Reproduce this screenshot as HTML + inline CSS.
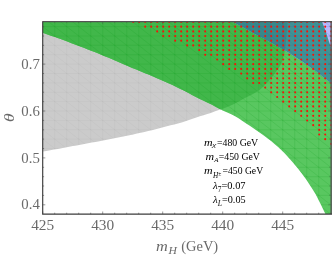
<!DOCTYPE html>
<html><head><meta charset="utf-8"><style>
html,body{margin:0;padding:0;background:#fff;}
svg{display:block;font-family:"Liberation Serif",serif;will-change:transform;}
</style></head><body>
<svg width="332" height="256" viewBox="0 0 332 256">
<defs>
<path id="pg" d="M42.7,32.8 L46.8,34.2 L51.0,35.7 L55.1,37.1 L59.2,38.6 L63.3,40.1 L67.4,41.6 L71.5,43.2 L75.6,44.7 L79.7,46.2 L83.8,47.8 L87.9,49.4 L91.9,51.0 L96.0,52.6 L100.1,54.2 L104.1,55.9 L108.1,57.6 L112.2,59.3 L116.2,61.0 L120.2,62.7 L124.2,64.5 L128.3,66.2 L132.3,67.9 L136.3,69.5 L140.4,71.2 L144.4,72.9 L148.5,74.6 L152.5,76.3 L156.5,78.0 L160.5,79.7 L164.5,81.5 L168.5,83.3 L172.5,85.1 L176.4,87.0 L180.4,88.9 L184.3,90.8 L188.2,92.8 L192.0,94.9 L195.9,97.0 L199.8,99.0 L203.7,100.8 L207.7,102.7 L211.6,104.6 L215.5,106.7 L219.3,108.8 L223.3,110.7 L227.3,112.5 L231.2,114.3 L235.1,116.3 L238.9,118.5 L242.5,120.9 L246.2,123.4 L249.8,125.8 L253.4,128.3 L257.0,130.8 L260.6,133.3 L264.1,135.8 L267.7,138.4 L271.1,141.1 L274.5,143.9 L277.8,146.7 L281.0,149.7 L284.1,152.8 L287.1,156.0 L290.0,159.3 L292.9,162.5 L295.8,165.9 L298.5,169.3 L301.2,172.7 L303.8,176.2 L306.4,179.7 L308.8,183.4 L311.1,187.1 L313.5,190.8 L315.8,194.5 L317.8,198.4 L319.7,202.3 L321.7,206.2 L323.6,210.2 L325.5,214.1 L332.3,214.1 L332.3,50.0 L330.3,45.5 L327.6,37.4 L325.3,30.0 L322.0,21.8 L42.7,21.8Z"/>
<path id="py" d="M42.7,21.8 L287.6,21.8 L287.6,21.8 L287.4,25.6 L287.1,29.5 L286.7,33.3 L286.4,37.1 L286.0,40.9 L285.6,44.8 L285.1,48.6 L284.5,52.4 L283.6,56.1 L282.5,59.8 L281.2,63.4 L279.6,66.8 L277.4,70.0 L275.1,73.1 L272.7,76.2 L270.2,79.1 L267.7,82.0 L265.1,84.8 L262.4,87.6 L259.5,90.0 L256.3,92.1 L253.0,94.0 L249.5,95.8 L246.0,97.5 L242.6,99.3 L239.3,101.2 L235.9,103.0 L232.4,104.7 L228.9,106.3 L225.4,107.7 L221.8,109.0 L218.1,110.3 L214.5,111.6 L210.9,112.9 L207.3,114.1 L203.6,115.2 L199.9,116.3 L196.3,117.5 L192.6,118.8 L189.0,120.1 L185.4,121.3 L181.7,122.4 L178.0,123.4 L174.3,124.4 L170.6,125.3 L166.9,126.3 L163.1,127.3 L159.4,128.3 L155.7,129.3 L152.0,130.2 L148.2,131.1 L144.5,131.9 L140.8,132.8 L137.0,133.6 L133.2,134.4 L129.5,135.2 L125.7,135.9 L122.0,136.7 L118.2,137.5 L114.4,138.2 L110.7,139.0 L106.9,139.7 L103.1,140.4 L99.4,141.2 L95.6,141.9 L91.8,142.6 L88.0,143.3 L84.3,144.0 L80.5,144.7 L76.7,145.4 L72.9,146.1 L69.2,146.8 L65.4,147.5 L61.6,148.2 L57.8,148.9 L54.0,149.6 L50.3,150.3 L46.5,150.9 L42.7,151.6Z"/>
<path id="pb" d="M232.8,21.8 L236.3,23.7 L239.8,25.7 L243.4,27.6 L246.9,29.5 L250.4,31.5 L254.0,33.4 L257.5,35.3 L261.0,37.2 L264.6,39.1 L268.1,41.0 L271.6,43.0 L275.1,44.9 L278.6,46.9 L282.1,48.9 L285.6,50.9 L289.0,53.0 L292.4,55.2 L295.8,57.4 L299.1,59.6 L302.5,61.8 L305.8,64.1 L309.1,66.4 L312.4,68.7 L315.6,71.1 L318.8,73.5 L321.9,76.1 L325.1,78.6 L328.3,81.0 L331.5,83.4 L332.3,21.8Z"/>
<path id="pm" d="M54.7,21.8V214.1M66.7,21.8V214.1M78.7,21.8V214.1M90.7,21.8V214.1M102.7,21.8V214.1M114.7,21.8V214.1M126.7,21.8V214.1M138.7,21.8V214.1M150.7,21.8V214.1M162.7,21.8V214.1M174.7,21.8V214.1M186.7,21.8V214.1M198.7,21.8V214.1M210.7,21.8V214.1M222.7,21.8V214.1M234.7,21.8V214.1M246.7,21.8V214.1M258.7,21.8V214.1M270.7,21.8V214.1M282.7,21.8V214.1M294.7,21.8V214.1M306.7,21.8V214.1M318.7,21.8V214.1M330.7,21.8V214.1M42.7,26.6H332.7M42.7,36.0H332.7M42.7,45.3H332.7M42.7,54.7H332.7M42.7,64.1H332.7M42.7,73.5H332.7M42.7,82.9H332.7M42.7,92.2H332.7M42.7,101.6H332.7M42.7,111.0H332.7M42.7,120.4H332.7M42.7,129.8H332.7M42.7,139.1H332.7M42.7,148.5H332.7M42.7,157.9H332.7M42.7,167.3H332.7M42.7,176.7H332.7M42.7,186.0H332.7M42.7,195.4H332.7M42.7,204.8H332.7M42.7,214.2H332.7M-233.3,17.2L42.7,232.9M-221.3,17.2L54.7,232.9M-209.3,17.2L66.7,232.9M-197.3,17.2L78.7,232.9M-185.3,17.2L90.7,232.9M-173.3,17.2L102.7,232.9M-161.3,17.2L114.7,232.9M-149.3,17.2L126.7,232.9M-137.3,17.2L138.7,232.9M-125.3,17.2L150.7,232.9M-113.3,17.2L162.7,232.9M-101.3,17.2L174.7,232.9M-89.3,17.2L186.7,232.9M-77.3,17.2L198.7,232.9M-65.3,17.2L210.7,232.9M-53.3,17.2L222.7,232.9M-41.3,17.2L234.7,232.9M-29.3,17.2L246.7,232.9M-17.3,17.2L258.7,232.9M-5.3,17.2L270.7,232.9M6.7,17.2L282.7,232.9M18.7,17.2L294.7,232.9M30.7,17.2L306.7,232.9M42.7,17.2L318.7,232.9M54.7,17.2L330.7,232.9M66.7,17.2L342.7,232.9M78.7,17.2L354.7,232.9M90.7,17.2L366.7,232.9M102.7,17.2L378.7,232.9M114.7,17.2L390.7,232.9M126.7,17.2L402.7,232.9M138.7,17.2L414.7,232.9M150.7,17.2L426.7,232.9M162.7,17.2L438.7,232.9M174.7,17.2L450.7,232.9M186.7,17.2L462.7,232.9M198.7,17.2L474.7,232.9M210.7,17.2L486.7,232.9M222.7,17.2L498.7,232.9M234.7,17.2L510.7,232.9M246.7,17.2L522.7,232.9M258.7,17.2L534.7,232.9M270.7,17.2L546.7,232.9M282.7,17.2L558.7,232.9M294.7,17.2L570.7,232.9M306.7,17.2L582.7,232.9M318.7,17.2L594.7,232.9M330.7,17.2L606.7,232.9" fill="none" stroke-width="0.6"/>
<clipPath id="cg"><use href="#pg"/></clipPath>
<clipPath id="cy"><use href="#py"/></clipPath>
<clipPath id="cb"><use href="#pb"/></clipPath>
<clipPath id="cf"><rect x="42.7" y="21.8" width="289.3" height="192.29999999999998"/></clipPath>
</defs>
<g clip-path="url(#cf)">
<use href="#py" fill="#cbcbcb"/>
<g clip-path="url(#cy)"><use href="#pm" stroke="#000" stroke-opacity="0.045"/></g>
<use href="#pg" fill="#59c760"/>
<g clip-path="url(#cy)"><use href="#pg" fill="#41b74a"/></g>
<g clip-path="url(#cg)"><use href="#pm" stroke="#0c9a1c" stroke-opacity="0.26"/></g>
<use href="#pb" fill="#b9b8fb"/>
<g clip-path="url(#cg)"><use href="#pb" fill="#409394"/>
<g clip-path="url(#cy)"><use href="#pb" fill="#38888a"/></g></g>
<g clip-path="url(#cb)"><use href="#pm" stroke="#1c5cc8" stroke-opacity="0.24"/></g>
</g>
<g fill="#fa1008" clip-path="url(#cf)"><ellipse cx="133.2" cy="22.0" rx="1" ry="1.12"/><ellipse cx="139.2" cy="22.0" rx="1" ry="1.12"/><ellipse cx="145.2" cy="22.0" rx="1" ry="1.12"/><ellipse cx="151.2" cy="22.0" rx="1" ry="1.12"/><ellipse cx="157.2" cy="22.0" rx="1" ry="1.12"/><ellipse cx="163.2" cy="22.0" rx="1" ry="1.12"/><ellipse cx="169.2" cy="22.0" rx="1" ry="1.12"/><ellipse cx="175.2" cy="22.0" rx="1" ry="1.12"/><ellipse cx="181.2" cy="22.0" rx="1" ry="1.12"/><ellipse cx="187.2" cy="22.0" rx="1" ry="1.12"/><ellipse cx="193.2" cy="22.0" rx="1" ry="1.12"/><ellipse cx="199.2" cy="22.0" rx="1" ry="1.12"/><ellipse cx="205.2" cy="22.0" rx="1" ry="1.12"/><ellipse cx="211.2" cy="22.0" rx="1" ry="1.12"/><ellipse cx="217.2" cy="22.0" rx="1" ry="1.12"/><ellipse cx="223.2" cy="22.0" rx="1" ry="1.12"/><ellipse cx="229.2" cy="22.0" rx="1" ry="1.12"/><ellipse cx="235.2" cy="22.0" rx="1" ry="1.12"/><ellipse cx="241.2" cy="22.0" rx="1" ry="1.12"/><ellipse cx="247.2" cy="22.0" rx="1" ry="1.12"/><ellipse cx="253.2" cy="22.0" rx="1" ry="1.12"/><ellipse cx="259.2" cy="22.0" rx="1" ry="1.12"/><ellipse cx="265.2" cy="22.0" rx="1" ry="1.12"/><ellipse cx="271.2" cy="22.0" rx="1" ry="1.12"/><ellipse cx="277.2" cy="22.0" rx="1" ry="1.12"/><ellipse cx="283.2" cy="22.0" rx="1" ry="1.12"/><ellipse cx="289.2" cy="22.0" rx="1" ry="1.12"/><ellipse cx="295.2" cy="22.0" rx="1" ry="1.12"/><ellipse cx="301.2" cy="22.0" rx="1" ry="1.12"/><ellipse cx="307.2" cy="22.0" rx="1" ry="1.12"/><ellipse cx="313.2" cy="22.0" rx="1" ry="1.12"/><ellipse cx="319.2" cy="22.0" rx="1" ry="1.12"/><ellipse cx="325.2" cy="22.0" rx="1" ry="1.12"/><ellipse cx="331.2" cy="22.0" rx="1" ry="1.12"/><ellipse cx="145.2" cy="26.7" rx="1" ry="1.12"/><ellipse cx="151.2" cy="26.7" rx="1" ry="1.12"/><ellipse cx="157.2" cy="26.7" rx="1" ry="1.12"/><ellipse cx="163.2" cy="26.7" rx="1" ry="1.12"/><ellipse cx="169.2" cy="26.7" rx="1" ry="1.12"/><ellipse cx="175.2" cy="26.7" rx="1" ry="1.12"/><ellipse cx="181.2" cy="26.7" rx="1" ry="1.12"/><ellipse cx="187.2" cy="26.7" rx="1" ry="1.12"/><ellipse cx="193.2" cy="26.7" rx="1" ry="1.12"/><ellipse cx="199.2" cy="26.7" rx="1" ry="1.12"/><ellipse cx="205.2" cy="26.7" rx="1" ry="1.12"/><ellipse cx="211.2" cy="26.7" rx="1" ry="1.12"/><ellipse cx="217.2" cy="26.7" rx="1" ry="1.12"/><ellipse cx="223.2" cy="26.7" rx="1" ry="1.12"/><ellipse cx="229.2" cy="26.7" rx="1" ry="1.12"/><ellipse cx="235.2" cy="26.7" rx="1" ry="1.12"/><ellipse cx="241.2" cy="26.7" rx="1" ry="1.12"/><ellipse cx="247.2" cy="26.7" rx="1" ry="1.12"/><ellipse cx="253.2" cy="26.7" rx="1" ry="1.12"/><ellipse cx="259.2" cy="26.7" rx="1" ry="1.12"/><ellipse cx="265.2" cy="26.7" rx="1" ry="1.12"/><ellipse cx="271.2" cy="26.7" rx="1" ry="1.12"/><ellipse cx="277.2" cy="26.7" rx="1" ry="1.12"/><ellipse cx="283.2" cy="26.7" rx="1" ry="1.12"/><ellipse cx="289.2" cy="26.7" rx="1" ry="1.12"/><ellipse cx="295.2" cy="26.7" rx="1" ry="1.12"/><ellipse cx="301.2" cy="26.7" rx="1" ry="1.12"/><ellipse cx="307.2" cy="26.7" rx="1" ry="1.12"/><ellipse cx="313.2" cy="26.7" rx="1" ry="1.12"/><ellipse cx="319.2" cy="26.7" rx="1" ry="1.12"/><ellipse cx="325.2" cy="26.7" rx="1" ry="1.12"/><ellipse cx="331.2" cy="26.7" rx="1" ry="1.12"/><ellipse cx="157.2" cy="31.4" rx="1" ry="1.12"/><ellipse cx="163.2" cy="31.4" rx="1" ry="1.12"/><ellipse cx="169.2" cy="31.4" rx="1" ry="1.12"/><ellipse cx="175.2" cy="31.4" rx="1" ry="1.12"/><ellipse cx="181.2" cy="31.4" rx="1" ry="1.12"/><ellipse cx="187.2" cy="31.4" rx="1" ry="1.12"/><ellipse cx="193.2" cy="31.4" rx="1" ry="1.12"/><ellipse cx="199.2" cy="31.4" rx="1" ry="1.12"/><ellipse cx="205.2" cy="31.4" rx="1" ry="1.12"/><ellipse cx="211.2" cy="31.4" rx="1" ry="1.12"/><ellipse cx="217.2" cy="31.4" rx="1" ry="1.12"/><ellipse cx="223.2" cy="31.4" rx="1" ry="1.12"/><ellipse cx="229.2" cy="31.4" rx="1" ry="1.12"/><ellipse cx="235.2" cy="31.4" rx="1" ry="1.12"/><ellipse cx="241.2" cy="31.4" rx="1" ry="1.12"/><ellipse cx="247.2" cy="31.4" rx="1" ry="1.12"/><ellipse cx="253.2" cy="31.4" rx="1" ry="1.12"/><ellipse cx="259.2" cy="31.4" rx="1" ry="1.12"/><ellipse cx="265.2" cy="31.4" rx="1" ry="1.12"/><ellipse cx="271.2" cy="31.4" rx="1" ry="1.12"/><ellipse cx="277.2" cy="31.4" rx="1" ry="1.12"/><ellipse cx="283.2" cy="31.4" rx="1" ry="1.12"/><ellipse cx="289.2" cy="31.4" rx="1" ry="1.12"/><ellipse cx="295.2" cy="31.4" rx="1" ry="1.12"/><ellipse cx="301.2" cy="31.4" rx="1" ry="1.12"/><ellipse cx="307.2" cy="31.4" rx="1" ry="1.12"/><ellipse cx="313.2" cy="31.4" rx="1" ry="1.12"/><ellipse cx="319.2" cy="31.4" rx="1" ry="1.12"/><ellipse cx="325.2" cy="31.4" rx="1" ry="1.12"/><ellipse cx="331.2" cy="31.4" rx="1" ry="1.12"/><ellipse cx="163.2" cy="36.1" rx="1" ry="1.12"/><ellipse cx="169.2" cy="36.1" rx="1" ry="1.12"/><ellipse cx="175.2" cy="36.1" rx="1" ry="1.12"/><ellipse cx="181.2" cy="36.1" rx="1" ry="1.12"/><ellipse cx="187.2" cy="36.1" rx="1" ry="1.12"/><ellipse cx="193.2" cy="36.1" rx="1" ry="1.12"/><ellipse cx="199.2" cy="36.1" rx="1" ry="1.12"/><ellipse cx="205.2" cy="36.1" rx="1" ry="1.12"/><ellipse cx="211.2" cy="36.1" rx="1" ry="1.12"/><ellipse cx="217.2" cy="36.1" rx="1" ry="1.12"/><ellipse cx="223.2" cy="36.1" rx="1" ry="1.12"/><ellipse cx="229.2" cy="36.1" rx="1" ry="1.12"/><ellipse cx="235.2" cy="36.1" rx="1" ry="1.12"/><ellipse cx="241.2" cy="36.1" rx="1" ry="1.12"/><ellipse cx="247.2" cy="36.1" rx="1" ry="1.12"/><ellipse cx="253.2" cy="36.1" rx="1" ry="1.12"/><ellipse cx="259.2" cy="36.1" rx="1" ry="1.12"/><ellipse cx="265.2" cy="36.1" rx="1" ry="1.12"/><ellipse cx="271.2" cy="36.1" rx="1" ry="1.12"/><ellipse cx="277.2" cy="36.1" rx="1" ry="1.12"/><ellipse cx="283.2" cy="36.1" rx="1" ry="1.12"/><ellipse cx="289.2" cy="36.1" rx="1" ry="1.12"/><ellipse cx="295.2" cy="36.1" rx="1" ry="1.12"/><ellipse cx="301.2" cy="36.1" rx="1" ry="1.12"/><ellipse cx="307.2" cy="36.1" rx="1" ry="1.12"/><ellipse cx="313.2" cy="36.1" rx="1" ry="1.12"/><ellipse cx="319.2" cy="36.1" rx="1" ry="1.12"/><ellipse cx="325.2" cy="36.1" rx="1" ry="1.12"/><ellipse cx="331.2" cy="36.1" rx="1" ry="1.12"/><ellipse cx="175.2" cy="40.7" rx="1" ry="1.12"/><ellipse cx="181.2" cy="40.7" rx="1" ry="1.12"/><ellipse cx="187.2" cy="40.7" rx="1" ry="1.12"/><ellipse cx="193.2" cy="40.7" rx="1" ry="1.12"/><ellipse cx="199.2" cy="40.7" rx="1" ry="1.12"/><ellipse cx="205.2" cy="40.7" rx="1" ry="1.12"/><ellipse cx="211.2" cy="40.7" rx="1" ry="1.12"/><ellipse cx="217.2" cy="40.7" rx="1" ry="1.12"/><ellipse cx="223.2" cy="40.7" rx="1" ry="1.12"/><ellipse cx="229.2" cy="40.7" rx="1" ry="1.12"/><ellipse cx="235.2" cy="40.7" rx="1" ry="1.12"/><ellipse cx="241.2" cy="40.7" rx="1" ry="1.12"/><ellipse cx="247.2" cy="40.7" rx="1" ry="1.12"/><ellipse cx="253.2" cy="40.7" rx="1" ry="1.12"/><ellipse cx="259.2" cy="40.7" rx="1" ry="1.12"/><ellipse cx="265.2" cy="40.7" rx="1" ry="1.12"/><ellipse cx="271.2" cy="40.7" rx="1" ry="1.12"/><ellipse cx="277.2" cy="40.7" rx="1" ry="1.12"/><ellipse cx="283.2" cy="40.7" rx="1" ry="1.12"/><ellipse cx="289.2" cy="40.7" rx="1" ry="1.12"/><ellipse cx="295.2" cy="40.7" rx="1" ry="1.12"/><ellipse cx="301.2" cy="40.7" rx="1" ry="1.12"/><ellipse cx="307.2" cy="40.7" rx="1" ry="1.12"/><ellipse cx="313.2" cy="40.7" rx="1" ry="1.12"/><ellipse cx="319.2" cy="40.7" rx="1" ry="1.12"/><ellipse cx="325.2" cy="40.7" rx="1" ry="1.12"/><ellipse cx="331.2" cy="40.7" rx="1" ry="1.12"/><ellipse cx="187.2" cy="45.4" rx="1" ry="1.12"/><ellipse cx="193.2" cy="45.4" rx="1" ry="1.12"/><ellipse cx="199.2" cy="45.4" rx="1" ry="1.12"/><ellipse cx="205.2" cy="45.4" rx="1" ry="1.12"/><ellipse cx="211.2" cy="45.4" rx="1" ry="1.12"/><ellipse cx="217.2" cy="45.4" rx="1" ry="1.12"/><ellipse cx="223.2" cy="45.4" rx="1" ry="1.12"/><ellipse cx="229.2" cy="45.4" rx="1" ry="1.12"/><ellipse cx="235.2" cy="45.4" rx="1" ry="1.12"/><ellipse cx="241.2" cy="45.4" rx="1" ry="1.12"/><ellipse cx="247.2" cy="45.4" rx="1" ry="1.12"/><ellipse cx="253.2" cy="45.4" rx="1" ry="1.12"/><ellipse cx="259.2" cy="45.4" rx="1" ry="1.12"/><ellipse cx="265.2" cy="45.4" rx="1" ry="1.12"/><ellipse cx="271.2" cy="45.4" rx="1" ry="1.12"/><ellipse cx="277.2" cy="45.4" rx="1" ry="1.12"/><ellipse cx="283.2" cy="45.4" rx="1" ry="1.12"/><ellipse cx="289.2" cy="45.4" rx="1" ry="1.12"/><ellipse cx="295.2" cy="45.4" rx="1" ry="1.12"/><ellipse cx="301.2" cy="45.4" rx="1" ry="1.12"/><ellipse cx="307.2" cy="45.4" rx="1" ry="1.12"/><ellipse cx="313.2" cy="45.4" rx="1" ry="1.12"/><ellipse cx="319.2" cy="45.4" rx="1" ry="1.12"/><ellipse cx="325.2" cy="45.4" rx="1" ry="1.12"/><ellipse cx="331.2" cy="45.4" rx="1" ry="1.12"/><ellipse cx="199.2" cy="50.1" rx="1" ry="1.12"/><ellipse cx="205.2" cy="50.1" rx="1" ry="1.12"/><ellipse cx="211.2" cy="50.1" rx="1" ry="1.12"/><ellipse cx="217.2" cy="50.1" rx="1" ry="1.12"/><ellipse cx="223.2" cy="50.1" rx="1" ry="1.12"/><ellipse cx="229.2" cy="50.1" rx="1" ry="1.12"/><ellipse cx="235.2" cy="50.1" rx="1" ry="1.12"/><ellipse cx="241.2" cy="50.1" rx="1" ry="1.12"/><ellipse cx="247.2" cy="50.1" rx="1" ry="1.12"/><ellipse cx="253.2" cy="50.1" rx="1" ry="1.12"/><ellipse cx="259.2" cy="50.1" rx="1" ry="1.12"/><ellipse cx="265.2" cy="50.1" rx="1" ry="1.12"/><ellipse cx="271.2" cy="50.1" rx="1" ry="1.12"/><ellipse cx="277.2" cy="50.1" rx="1" ry="1.12"/><ellipse cx="283.2" cy="50.1" rx="1" ry="1.12"/><ellipse cx="289.2" cy="50.1" rx="1" ry="1.12"/><ellipse cx="295.2" cy="50.1" rx="1" ry="1.12"/><ellipse cx="301.2" cy="50.1" rx="1" ry="1.12"/><ellipse cx="307.2" cy="50.1" rx="1" ry="1.12"/><ellipse cx="313.2" cy="50.1" rx="1" ry="1.12"/><ellipse cx="319.2" cy="50.1" rx="1" ry="1.12"/><ellipse cx="325.2" cy="50.1" rx="1" ry="1.12"/><ellipse cx="331.2" cy="50.1" rx="1" ry="1.12"/><ellipse cx="205.2" cy="54.8" rx="1" ry="1.12"/><ellipse cx="211.2" cy="54.8" rx="1" ry="1.12"/><ellipse cx="217.2" cy="54.8" rx="1" ry="1.12"/><ellipse cx="223.2" cy="54.8" rx="1" ry="1.12"/><ellipse cx="229.2" cy="54.8" rx="1" ry="1.12"/><ellipse cx="235.2" cy="54.8" rx="1" ry="1.12"/><ellipse cx="241.2" cy="54.8" rx="1" ry="1.12"/><ellipse cx="247.2" cy="54.8" rx="1" ry="1.12"/><ellipse cx="253.2" cy="54.8" rx="1" ry="1.12"/><ellipse cx="259.2" cy="54.8" rx="1" ry="1.12"/><ellipse cx="265.2" cy="54.8" rx="1" ry="1.12"/><ellipse cx="271.2" cy="54.8" rx="1" ry="1.12"/><ellipse cx="277.2" cy="54.8" rx="1" ry="1.12"/><ellipse cx="283.2" cy="54.8" rx="1" ry="1.12"/><ellipse cx="289.2" cy="54.8" rx="1" ry="1.12"/><ellipse cx="295.2" cy="54.8" rx="1" ry="1.12"/><ellipse cx="301.2" cy="54.8" rx="1" ry="1.12"/><ellipse cx="307.2" cy="54.8" rx="1" ry="1.12"/><ellipse cx="313.2" cy="54.8" rx="1" ry="1.12"/><ellipse cx="319.2" cy="54.8" rx="1" ry="1.12"/><ellipse cx="325.2" cy="54.8" rx="1" ry="1.12"/><ellipse cx="331.2" cy="54.8" rx="1" ry="1.12"/><ellipse cx="217.2" cy="59.5" rx="1" ry="1.12"/><ellipse cx="223.2" cy="59.5" rx="1" ry="1.12"/><ellipse cx="229.2" cy="59.5" rx="1" ry="1.12"/><ellipse cx="235.2" cy="59.5" rx="1" ry="1.12"/><ellipse cx="241.2" cy="59.5" rx="1" ry="1.12"/><ellipse cx="247.2" cy="59.5" rx="1" ry="1.12"/><ellipse cx="253.2" cy="59.5" rx="1" ry="1.12"/><ellipse cx="259.2" cy="59.5" rx="1" ry="1.12"/><ellipse cx="265.2" cy="59.5" rx="1" ry="1.12"/><ellipse cx="271.2" cy="59.5" rx="1" ry="1.12"/><ellipse cx="277.2" cy="59.5" rx="1" ry="1.12"/><ellipse cx="283.2" cy="59.5" rx="1" ry="1.12"/><ellipse cx="289.2" cy="59.5" rx="1" ry="1.12"/><ellipse cx="295.2" cy="59.5" rx="1" ry="1.12"/><ellipse cx="301.2" cy="59.5" rx="1" ry="1.12"/><ellipse cx="307.2" cy="59.5" rx="1" ry="1.12"/><ellipse cx="313.2" cy="59.5" rx="1" ry="1.12"/><ellipse cx="319.2" cy="59.5" rx="1" ry="1.12"/><ellipse cx="325.2" cy="59.5" rx="1" ry="1.12"/><ellipse cx="331.2" cy="59.5" rx="1" ry="1.12"/><ellipse cx="223.2" cy="64.2" rx="1" ry="1.12"/><ellipse cx="229.2" cy="64.2" rx="1" ry="1.12"/><ellipse cx="235.2" cy="64.2" rx="1" ry="1.12"/><ellipse cx="241.2" cy="64.2" rx="1" ry="1.12"/><ellipse cx="247.2" cy="64.2" rx="1" ry="1.12"/><ellipse cx="253.2" cy="64.2" rx="1" ry="1.12"/><ellipse cx="259.2" cy="64.2" rx="1" ry="1.12"/><ellipse cx="265.2" cy="64.2" rx="1" ry="1.12"/><ellipse cx="271.2" cy="64.2" rx="1" ry="1.12"/><ellipse cx="277.2" cy="64.2" rx="1" ry="1.12"/><ellipse cx="283.2" cy="64.2" rx="1" ry="1.12"/><ellipse cx="289.2" cy="64.2" rx="1" ry="1.12"/><ellipse cx="295.2" cy="64.2" rx="1" ry="1.12"/><ellipse cx="301.2" cy="64.2" rx="1" ry="1.12"/><ellipse cx="307.2" cy="64.2" rx="1" ry="1.12"/><ellipse cx="313.2" cy="64.2" rx="1" ry="1.12"/><ellipse cx="319.2" cy="64.2" rx="1" ry="1.12"/><ellipse cx="325.2" cy="64.2" rx="1" ry="1.12"/><ellipse cx="331.2" cy="64.2" rx="1" ry="1.12"/><ellipse cx="229.2" cy="68.9" rx="1" ry="1.12"/><ellipse cx="235.2" cy="68.9" rx="1" ry="1.12"/><ellipse cx="241.2" cy="68.9" rx="1" ry="1.12"/><ellipse cx="247.2" cy="68.9" rx="1" ry="1.12"/><ellipse cx="253.2" cy="68.9" rx="1" ry="1.12"/><ellipse cx="259.2" cy="68.9" rx="1" ry="1.12"/><ellipse cx="265.2" cy="68.9" rx="1" ry="1.12"/><ellipse cx="271.2" cy="68.9" rx="1" ry="1.12"/><ellipse cx="277.2" cy="68.9" rx="1" ry="1.12"/><ellipse cx="283.2" cy="68.9" rx="1" ry="1.12"/><ellipse cx="289.2" cy="68.9" rx="1" ry="1.12"/><ellipse cx="295.2" cy="68.9" rx="1" ry="1.12"/><ellipse cx="301.2" cy="68.9" rx="1" ry="1.12"/><ellipse cx="307.2" cy="68.9" rx="1" ry="1.12"/><ellipse cx="313.2" cy="68.9" rx="1" ry="1.12"/><ellipse cx="319.2" cy="68.9" rx="1" ry="1.12"/><ellipse cx="325.2" cy="68.9" rx="1" ry="1.12"/><ellipse cx="331.2" cy="68.9" rx="1" ry="1.12"/><ellipse cx="241.2" cy="73.6" rx="1" ry="1.12"/><ellipse cx="247.2" cy="73.6" rx="1" ry="1.12"/><ellipse cx="253.2" cy="73.6" rx="1" ry="1.12"/><ellipse cx="259.2" cy="73.6" rx="1" ry="1.12"/><ellipse cx="265.2" cy="73.6" rx="1" ry="1.12"/><ellipse cx="271.2" cy="73.6" rx="1" ry="1.12"/><ellipse cx="277.2" cy="73.6" rx="1" ry="1.12"/><ellipse cx="283.2" cy="73.6" rx="1" ry="1.12"/><ellipse cx="289.2" cy="73.6" rx="1" ry="1.12"/><ellipse cx="295.2" cy="73.6" rx="1" ry="1.12"/><ellipse cx="301.2" cy="73.6" rx="1" ry="1.12"/><ellipse cx="307.2" cy="73.6" rx="1" ry="1.12"/><ellipse cx="313.2" cy="73.6" rx="1" ry="1.12"/><ellipse cx="319.2" cy="73.6" rx="1" ry="1.12"/><ellipse cx="325.2" cy="73.6" rx="1" ry="1.12"/><ellipse cx="331.2" cy="73.6" rx="1" ry="1.12"/><ellipse cx="247.2" cy="78.3" rx="1" ry="1.12"/><ellipse cx="253.2" cy="78.3" rx="1" ry="1.12"/><ellipse cx="259.2" cy="78.3" rx="1" ry="1.12"/><ellipse cx="265.2" cy="78.3" rx="1" ry="1.12"/><ellipse cx="271.2" cy="78.3" rx="1" ry="1.12"/><ellipse cx="277.2" cy="78.3" rx="1" ry="1.12"/><ellipse cx="283.2" cy="78.3" rx="1" ry="1.12"/><ellipse cx="289.2" cy="78.3" rx="1" ry="1.12"/><ellipse cx="295.2" cy="78.3" rx="1" ry="1.12"/><ellipse cx="301.2" cy="78.3" rx="1" ry="1.12"/><ellipse cx="307.2" cy="78.3" rx="1" ry="1.12"/><ellipse cx="313.2" cy="78.3" rx="1" ry="1.12"/><ellipse cx="319.2" cy="78.3" rx="1" ry="1.12"/><ellipse cx="325.2" cy="78.3" rx="1" ry="1.12"/><ellipse cx="331.2" cy="78.3" rx="1" ry="1.12"/><ellipse cx="253.2" cy="83.0" rx="1" ry="1.12"/><ellipse cx="259.2" cy="83.0" rx="1" ry="1.12"/><ellipse cx="265.2" cy="83.0" rx="1" ry="1.12"/><ellipse cx="271.2" cy="83.0" rx="1" ry="1.12"/><ellipse cx="277.2" cy="83.0" rx="1" ry="1.12"/><ellipse cx="283.2" cy="83.0" rx="1" ry="1.12"/><ellipse cx="289.2" cy="83.0" rx="1" ry="1.12"/><ellipse cx="295.2" cy="83.0" rx="1" ry="1.12"/><ellipse cx="301.2" cy="83.0" rx="1" ry="1.12"/><ellipse cx="307.2" cy="83.0" rx="1" ry="1.12"/><ellipse cx="313.2" cy="83.0" rx="1" ry="1.12"/><ellipse cx="319.2" cy="83.0" rx="1" ry="1.12"/><ellipse cx="325.2" cy="83.0" rx="1" ry="1.12"/><ellipse cx="331.2" cy="83.0" rx="1" ry="1.12"/><ellipse cx="265.2" cy="87.6" rx="1" ry="1.12"/><ellipse cx="271.2" cy="87.6" rx="1" ry="1.12"/><ellipse cx="277.2" cy="87.6" rx="1" ry="1.12"/><ellipse cx="283.2" cy="87.6" rx="1" ry="1.12"/><ellipse cx="289.2" cy="87.6" rx="1" ry="1.12"/><ellipse cx="295.2" cy="87.6" rx="1" ry="1.12"/><ellipse cx="301.2" cy="87.6" rx="1" ry="1.12"/><ellipse cx="307.2" cy="87.6" rx="1" ry="1.12"/><ellipse cx="313.2" cy="87.6" rx="1" ry="1.12"/><ellipse cx="319.2" cy="87.6" rx="1" ry="1.12"/><ellipse cx="325.2" cy="87.6" rx="1" ry="1.12"/><ellipse cx="331.2" cy="87.6" rx="1" ry="1.12"/><ellipse cx="271.2" cy="92.3" rx="1" ry="1.12"/><ellipse cx="277.2" cy="92.3" rx="1" ry="1.12"/><ellipse cx="283.2" cy="92.3" rx="1" ry="1.12"/><ellipse cx="289.2" cy="92.3" rx="1" ry="1.12"/><ellipse cx="295.2" cy="92.3" rx="1" ry="1.12"/><ellipse cx="301.2" cy="92.3" rx="1" ry="1.12"/><ellipse cx="307.2" cy="92.3" rx="1" ry="1.12"/><ellipse cx="313.2" cy="92.3" rx="1" ry="1.12"/><ellipse cx="319.2" cy="92.3" rx="1" ry="1.12"/><ellipse cx="325.2" cy="92.3" rx="1" ry="1.12"/><ellipse cx="331.2" cy="92.3" rx="1" ry="1.12"/><ellipse cx="277.2" cy="97.0" rx="1" ry="1.12"/><ellipse cx="283.2" cy="97.0" rx="1" ry="1.12"/><ellipse cx="289.2" cy="97.0" rx="1" ry="1.12"/><ellipse cx="295.2" cy="97.0" rx="1" ry="1.12"/><ellipse cx="301.2" cy="97.0" rx="1" ry="1.12"/><ellipse cx="307.2" cy="97.0" rx="1" ry="1.12"/><ellipse cx="313.2" cy="97.0" rx="1" ry="1.12"/><ellipse cx="319.2" cy="97.0" rx="1" ry="1.12"/><ellipse cx="325.2" cy="97.0" rx="1" ry="1.12"/><ellipse cx="331.2" cy="97.0" rx="1" ry="1.12"/><ellipse cx="283.2" cy="101.7" rx="1" ry="1.12"/><ellipse cx="289.2" cy="101.7" rx="1" ry="1.12"/><ellipse cx="295.2" cy="101.7" rx="1" ry="1.12"/><ellipse cx="301.2" cy="101.7" rx="1" ry="1.12"/><ellipse cx="307.2" cy="101.7" rx="1" ry="1.12"/><ellipse cx="313.2" cy="101.7" rx="1" ry="1.12"/><ellipse cx="319.2" cy="101.7" rx="1" ry="1.12"/><ellipse cx="325.2" cy="101.7" rx="1" ry="1.12"/><ellipse cx="331.2" cy="101.7" rx="1" ry="1.12"/><ellipse cx="289.2" cy="106.4" rx="1" ry="1.12"/><ellipse cx="295.2" cy="106.4" rx="1" ry="1.12"/><ellipse cx="301.2" cy="106.4" rx="1" ry="1.12"/><ellipse cx="307.2" cy="106.4" rx="1" ry="1.12"/><ellipse cx="313.2" cy="106.4" rx="1" ry="1.12"/><ellipse cx="319.2" cy="106.4" rx="1" ry="1.12"/><ellipse cx="325.2" cy="106.4" rx="1" ry="1.12"/><ellipse cx="331.2" cy="106.4" rx="1" ry="1.12"/><ellipse cx="295.2" cy="111.1" rx="1" ry="1.12"/><ellipse cx="301.2" cy="111.1" rx="1" ry="1.12"/><ellipse cx="307.2" cy="111.1" rx="1" ry="1.12"/><ellipse cx="313.2" cy="111.1" rx="1" ry="1.12"/><ellipse cx="319.2" cy="111.1" rx="1" ry="1.12"/><ellipse cx="325.2" cy="111.1" rx="1" ry="1.12"/><ellipse cx="331.2" cy="111.1" rx="1" ry="1.12"/><ellipse cx="301.2" cy="115.8" rx="1" ry="1.12"/><ellipse cx="307.2" cy="115.8" rx="1" ry="1.12"/><ellipse cx="313.2" cy="115.8" rx="1" ry="1.12"/><ellipse cx="319.2" cy="115.8" rx="1" ry="1.12"/><ellipse cx="325.2" cy="115.8" rx="1" ry="1.12"/><ellipse cx="331.2" cy="115.8" rx="1" ry="1.12"/><ellipse cx="307.2" cy="120.5" rx="1" ry="1.12"/><ellipse cx="313.2" cy="120.5" rx="1" ry="1.12"/><ellipse cx="319.2" cy="120.5" rx="1" ry="1.12"/><ellipse cx="325.2" cy="120.5" rx="1" ry="1.12"/><ellipse cx="331.2" cy="120.5" rx="1" ry="1.12"/><ellipse cx="313.2" cy="125.2" rx="1" ry="1.12"/><ellipse cx="319.2" cy="125.2" rx="1" ry="1.12"/><ellipse cx="325.2" cy="125.2" rx="1" ry="1.12"/><ellipse cx="331.2" cy="125.2" rx="1" ry="1.12"/><ellipse cx="319.2" cy="129.9" rx="1" ry="1.12"/><ellipse cx="325.2" cy="129.9" rx="1" ry="1.12"/><ellipse cx="331.2" cy="129.9" rx="1" ry="1.12"/><ellipse cx="319.2" cy="134.5" rx="1" ry="1.12"/><ellipse cx="325.2" cy="134.5" rx="1" ry="1.12"/><ellipse cx="331.2" cy="134.5" rx="1" ry="1.12"/><ellipse cx="325.2" cy="139.2" rx="1" ry="1.12"/><ellipse cx="331.2" cy="139.2" rx="1" ry="1.12"/><ellipse cx="331.2" cy="143.9" rx="1" ry="1.12"/></g>
<g stroke="#555" stroke-width="0.6"><line x1="42.7" y1="214.1" x2="42.7" y2="211.5"/><line x1="54.7" y1="214.1" x2="54.7" y2="212.7"/><line x1="66.7" y1="214.1" x2="66.7" y2="212.7"/><line x1="78.7" y1="214.1" x2="78.7" y2="212.7"/><line x1="90.7" y1="214.1" x2="90.7" y2="212.7"/><line x1="102.7" y1="214.1" x2="102.7" y2="211.5"/><line x1="114.7" y1="214.1" x2="114.7" y2="212.7"/><line x1="126.7" y1="214.1" x2="126.7" y2="212.7"/><line x1="138.7" y1="214.1" x2="138.7" y2="212.7"/><line x1="150.7" y1="214.1" x2="150.7" y2="212.7"/><line x1="162.7" y1="214.1" x2="162.7" y2="211.5"/><line x1="174.7" y1="214.1" x2="174.7" y2="212.7"/><line x1="186.7" y1="214.1" x2="186.7" y2="212.7"/><line x1="198.7" y1="214.1" x2="198.7" y2="212.7"/><line x1="210.7" y1="214.1" x2="210.7" y2="212.7"/><line x1="222.7" y1="214.1" x2="222.7" y2="211.5"/><line x1="234.7" y1="214.1" x2="234.7" y2="212.7"/><line x1="246.7" y1="214.1" x2="246.7" y2="212.7"/><line x1="258.7" y1="214.1" x2="258.7" y2="212.7"/><line x1="270.7" y1="214.1" x2="270.7" y2="212.7"/><line x1="282.7" y1="214.1" x2="282.7" y2="211.5"/><line x1="294.7" y1="214.1" x2="294.7" y2="212.7"/><line x1="306.7" y1="214.1" x2="306.7" y2="212.7"/><line x1="318.7" y1="214.1" x2="318.7" y2="212.7"/><line x1="330.7" y1="214.1" x2="330.7" y2="212.7"/><line x1="42.7" y1="204.8" x2="45.300000000000004" y2="204.8"/><line x1="42.7" y1="195.4" x2="44.1" y2="195.4"/><line x1="42.7" y1="186.0" x2="44.1" y2="186.0"/><line x1="42.7" y1="176.7" x2="44.1" y2="176.7"/><line x1="42.7" y1="167.3" x2="44.1" y2="167.3"/><line x1="42.7" y1="157.9" x2="45.300000000000004" y2="157.9"/><line x1="42.7" y1="148.5" x2="44.1" y2="148.5"/><line x1="42.7" y1="139.1" x2="44.1" y2="139.1"/><line x1="42.7" y1="129.8" x2="44.1" y2="129.8"/><line x1="42.7" y1="120.4" x2="44.1" y2="120.4"/><line x1="42.7" y1="111.0" x2="45.300000000000004" y2="111.0"/><line x1="42.7" y1="101.6" x2="44.1" y2="101.6"/><line x1="42.7" y1="92.2" x2="44.1" y2="92.2"/><line x1="42.7" y1="82.9" x2="44.1" y2="82.9"/><line x1="42.7" y1="73.5" x2="44.1" y2="73.5"/><line x1="42.7" y1="64.1" x2="45.300000000000004" y2="64.1"/><line x1="42.7" y1="54.7" x2="44.1" y2="54.7"/><line x1="42.7" y1="45.3" x2="44.1" y2="45.3"/><line x1="42.7" y1="36.0" x2="44.1" y2="36.0"/><line x1="42.7" y1="26.6" x2="44.1" y2="26.6"/></g>
<g stroke="#444" stroke-width="0.6" stroke-opacity="0.55"><line x1="54.7" y1="21.8" x2="54.7" y2="23.1"/><line x1="66.7" y1="21.8" x2="66.7" y2="23.1"/><line x1="78.7" y1="21.8" x2="78.7" y2="23.1"/><line x1="90.7" y1="21.8" x2="90.7" y2="23.1"/><line x1="102.7" y1="21.8" x2="102.7" y2="24.2"/><line x1="114.7" y1="21.8" x2="114.7" y2="23.1"/><line x1="126.7" y1="21.8" x2="126.7" y2="23.1"/><line x1="138.7" y1="21.8" x2="138.7" y2="23.1"/><line x1="150.7" y1="21.8" x2="150.7" y2="23.1"/><line x1="162.7" y1="21.8" x2="162.7" y2="24.2"/><line x1="174.7" y1="21.8" x2="174.7" y2="23.1"/><line x1="186.7" y1="21.8" x2="186.7" y2="23.1"/><line x1="198.7" y1="21.8" x2="198.7" y2="23.1"/><line x1="210.7" y1="21.8" x2="210.7" y2="23.1"/><line x1="222.7" y1="21.8" x2="222.7" y2="24.2"/><line x1="234.7" y1="21.8" x2="234.7" y2="23.1"/><line x1="246.7" y1="21.8" x2="246.7" y2="23.1"/><line x1="258.7" y1="21.8" x2="258.7" y2="23.1"/><line x1="270.7" y1="21.8" x2="270.7" y2="23.1"/><line x1="282.7" y1="21.8" x2="282.7" y2="24.2"/><line x1="294.7" y1="21.8" x2="294.7" y2="23.1"/><line x1="306.7" y1="21.8" x2="306.7" y2="23.1"/><line x1="318.7" y1="21.8" x2="318.7" y2="23.1"/><line x1="330.7" y1="204.8" x2="328.09999999999997" y2="204.8"/><line x1="330.7" y1="195.4" x2="329.2" y2="195.4"/><line x1="330.7" y1="186.0" x2="329.2" y2="186.0"/><line x1="330.7" y1="176.7" x2="329.2" y2="176.7"/><line x1="330.7" y1="167.3" x2="329.2" y2="167.3"/><line x1="330.7" y1="157.9" x2="328.09999999999997" y2="157.9"/><line x1="330.7" y1="148.5" x2="329.2" y2="148.5"/><line x1="330.7" y1="139.1" x2="329.2" y2="139.1"/><line x1="330.7" y1="129.8" x2="329.2" y2="129.8"/><line x1="330.7" y1="120.4" x2="329.2" y2="120.4"/><line x1="330.7" y1="111.0" x2="328.09999999999997" y2="111.0"/><line x1="330.7" y1="101.6" x2="329.2" y2="101.6"/><line x1="330.7" y1="92.2" x2="329.2" y2="92.2"/><line x1="330.7" y1="82.9" x2="329.2" y2="82.9"/><line x1="330.7" y1="73.5" x2="329.2" y2="73.5"/><line x1="330.7" y1="64.1" x2="328.09999999999997" y2="64.1"/><line x1="330.7" y1="54.7" x2="329.2" y2="54.7"/><line x1="330.7" y1="45.3" x2="329.2" y2="45.3"/><line x1="330.7" y1="36.0" x2="329.2" y2="36.0"/><line x1="330.7" y1="26.6" x2="329.2" y2="26.6"/></g>
<path d="M42.7,21.650000000000002 H332.0" fill="none" stroke="#545454" stroke-width="1.3"/>
<path d="M331.3,21.8 V214.1" fill="none" stroke="#5a5a5a" stroke-width="1.8" stroke-opacity="0.88"/>
<path d="M42.7,21.3 V214.1 H332.0" fill="none" stroke="#3c3c3c" stroke-width="1.15"/>
<g style="opacity:0.999">
<g fill="#6a6a6a" font-size="13.8px"><text x="42.7" y="229.8" text-anchor="middle" textLength="23" lengthAdjust="spacingAndGlyphs">425</text><text x="102.7" y="229.8" text-anchor="middle" textLength="23" lengthAdjust="spacingAndGlyphs">430</text><text x="162.7" y="229.8" text-anchor="middle" textLength="23" lengthAdjust="spacingAndGlyphs">435</text><text x="222.7" y="229.8" text-anchor="middle" textLength="23" lengthAdjust="spacingAndGlyphs">440</text><text x="282.7" y="229.8" text-anchor="middle" textLength="23" lengthAdjust="spacingAndGlyphs">445</text><text x="39.8" y="209.4" text-anchor="end" textLength="18.5" lengthAdjust="spacingAndGlyphs">0.4</text><text x="39.8" y="162.5" text-anchor="end" textLength="18.5" lengthAdjust="spacingAndGlyphs">0.5</text><text x="39.8" y="115.6" text-anchor="end" textLength="18.5" lengthAdjust="spacingAndGlyphs">0.6</text><text x="39.8" y="68.7" text-anchor="end" textLength="18.5" lengthAdjust="spacingAndGlyphs">0.7</text></g>
<g fill="#6a6a6a" font-size="14.2px">
<text x="156.1" y="251.3" font-style="italic" textLength="11.8" lengthAdjust="spacingAndGlyphs">m</text>
<text x="168.4" y="254" font-style="italic" font-size="10.4px" textLength="8.4" lengthAdjust="spacingAndGlyphs">H</text>
<text x="181.2" y="251.3" textLength="37" lengthAdjust="spacingAndGlyphs">(GeV)</text>
<text transform="translate(14.0,117.6) rotate(-90) scale(1.12,1)" text-anchor="middle" font-style="italic" font-size="15.6px">θ</text>
</g>
<g fill="#000" font-size="10px">
<text x="204" y="145.6" font-style="italic" textLength="8.6" lengthAdjust="spacingAndGlyphs">m</text>
<text x="212.3" y="147.4" font-style="italic" font-size="6.8px" textLength="4.1" lengthAdjust="spacingAndGlyphs">χ</text>
<text x="217" y="145.6" textLength="41.2" lengthAdjust="spacingAndGlyphs">=480 GeV</text>
<text x="205.5" y="160" font-style="italic" textLength="8.6" lengthAdjust="spacingAndGlyphs">m</text>
<text x="214.3" y="162" font-style="italic" font-size="6.8px">A</text>
<text x="218.8" y="160" textLength="41.1" lengthAdjust="spacingAndGlyphs">=450 GeV</text>
<text x="204" y="174.2" font-style="italic" textLength="8.6" lengthAdjust="spacingAndGlyphs">m</text>
<text x="212.9" y="177.5" font-style="italic" font-size="7.6px" textLength="5.2" lengthAdjust="spacingAndGlyphs">H</text>
<text x="218.2" y="176.4" font-size="5.6px">±</text>
<text x="222.6" y="174.2" textLength="40.5" lengthAdjust="spacingAndGlyphs">=450 GeV</text>
<text x="212.9" y="189.3" font-style="italic" font-size="10.8px">λ</text>
<text x="217.8" y="191.6" font-size="7.6px">7</text>
<text x="221.5" y="189.3" textLength="24" lengthAdjust="spacingAndGlyphs">=0.07</text>
<text x="212.9" y="203.3" font-style="italic" font-size="10.8px">λ</text>
<text x="217.8" y="205.6" font-style="italic" font-size="7.6px">L</text>
<text x="222" y="203.3" textLength="23.6" lengthAdjust="spacingAndGlyphs">=0.05</text>
</g>
</g>
</svg>
</body></html>
